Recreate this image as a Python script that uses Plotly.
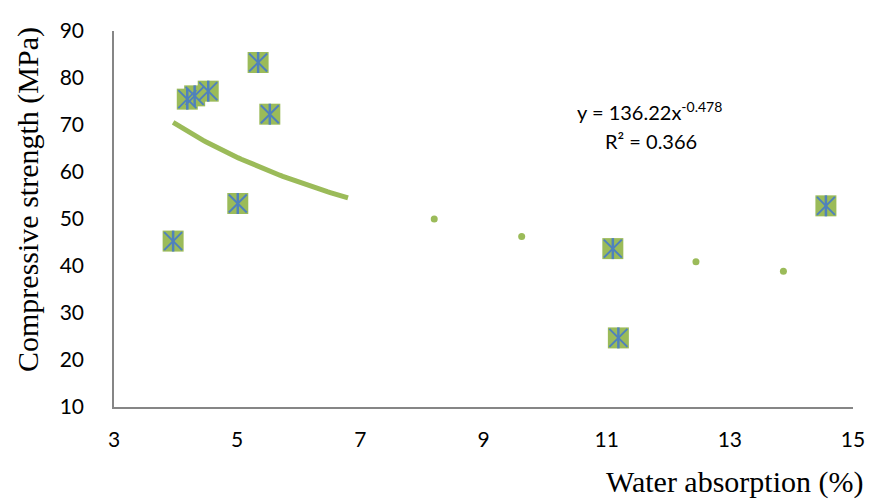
import numpy as np
import plotly.graph_objects as go

# Main series (green squares with blue asterisks)
main_x = [3.96, 4.19, 4.31, 4.53, 5.01, 5.34, 5.53, 11.10, 11.19, 14.56]
main_y = [45.3, 75.5, 76.2, 77.2, 53.3, 83.3, 72.3, 43.7, 24.7, 52.8]

# Secondary series (small green dots)
dot_x = [8.20, 9.62, 12.45, 13.87]
dot_y = [50.0, 46.3, 40.9, 38.9]

# Power trendline as shown: y = a * x^b
trend_a = 136.22
trend_b = -0.478
trend_x_start = 3.96
trend_x_end = 6.80

x_ticks = [3, 5, 7, 9, 11, 13, 15]
y_ticks = [10, 20, 30, 40, 50, 60, 70, 80, 90]

GREEN = "#9BBB59"
BLUE = "#4F81BD"
AXIS = "#868686"
TICKFONT = dict(family="Lato, Open Sans, sans-serif", size=21, color="#000000")
EQFONT = dict(family="Lato, Open Sans, sans-serif", size=20, color="#000000")
TITLEFONT = dict(family="Liberation Serif, serif", size=30, color="#000000")

tx = np.linspace(trend_x_start, trend_x_end, 60)
ty = trend_a * tx ** trend_b

fig = go.Figure()
fig.add_trace(go.Scatter(x=tx, y=ty, mode="lines",
                         line=dict(color=GREEN, width=5), hoverinfo="skip"))
fig.add_trace(go.Scatter(x=dot_x, y=dot_y, mode="markers",
                         marker=dict(symbol="circle", size=7, color=GREEN)))
fig.add_trace(go.Scatter(x=main_x, y=main_y, mode="markers",
                         marker=dict(symbol="square", size=21, color=GREEN,
                                     line=dict(width=0))))
fig.add_trace(go.Scatter(x=main_x, y=main_y, mode="markers",
                         marker=dict(symbol="x-thin-open", size=18, color=BLUE,
                                     line=dict(color=BLUE, width=2))))
fig.add_trace(go.Scatter(x=main_x, y=main_y, mode="markers",
                         marker=dict(symbol="line-ns-open", size=15, color=BLUE,
                                     line=dict(color=BLUE, width=2.5))))

W, H = 869, 500
PL, PT, PR, PB = 114, 31, 853, 407   # plot area in page pixels
pw = PR - PL
ph = PB - PT


def px(p):
    return (p - PL) / pw


def py(p):
    return (PB - p) / ph


fig.update_layout(
    width=W, height=H,
    margin=dict(l=PL, r=W - PR, t=PT, b=H - PB),
    plot_bgcolor="white", paper_bgcolor="white",
    showlegend=False,
    xaxis=dict(range=[3, 15], tickvals=x_ticks, showgrid=False, zeroline=False,
               showline=True, linecolor=AXIS, linewidth=1.5, ticks="",
               tickfont=TICKFONT, ticklabelstandoff=13, automargin=False),
    yaxis=dict(range=[10, 90], tickvals=y_ticks, showgrid=False, zeroline=False,
               showline=True, linecolor=AXIS, linewidth=1.5, ticks="",
               tickfont=TICKFONT, ticklabelstandoff=24, automargin=False),
    annotations=[
        dict(text="Compressive strength (MPa)", textangle=-90, showarrow=False,
             xref="paper", yref="paper", x=px(28), y=py(200),
             xanchor="center", yanchor="middle", font=TITLEFONT),
        dict(text="Water absorption (%)", showarrow=False,
             xref="paper", yref="paper", x=px(866), y=py(482),
             xanchor="right", yanchor="middle", font=TITLEFONT),
        dict(text="y = 136.22x<sup>-0.478</sup>", showarrow=False,
             xref="paper", yref="paper", x=px(649), y=py(111),
             xanchor="center", yanchor="middle", font=EQFONT),
        dict(text="R² = 0.366", showarrow=False,
             xref="paper", yref="paper", x=px(651), y=py(141),
             xanchor="center", yanchor="middle", font=EQFONT),
    ],
)

fig.write_html(
    "out.html",
    config={"displayModeBar": False},
    post_script="document.body.style.margin='0';document.body.style.overflow='hidden';",
)
